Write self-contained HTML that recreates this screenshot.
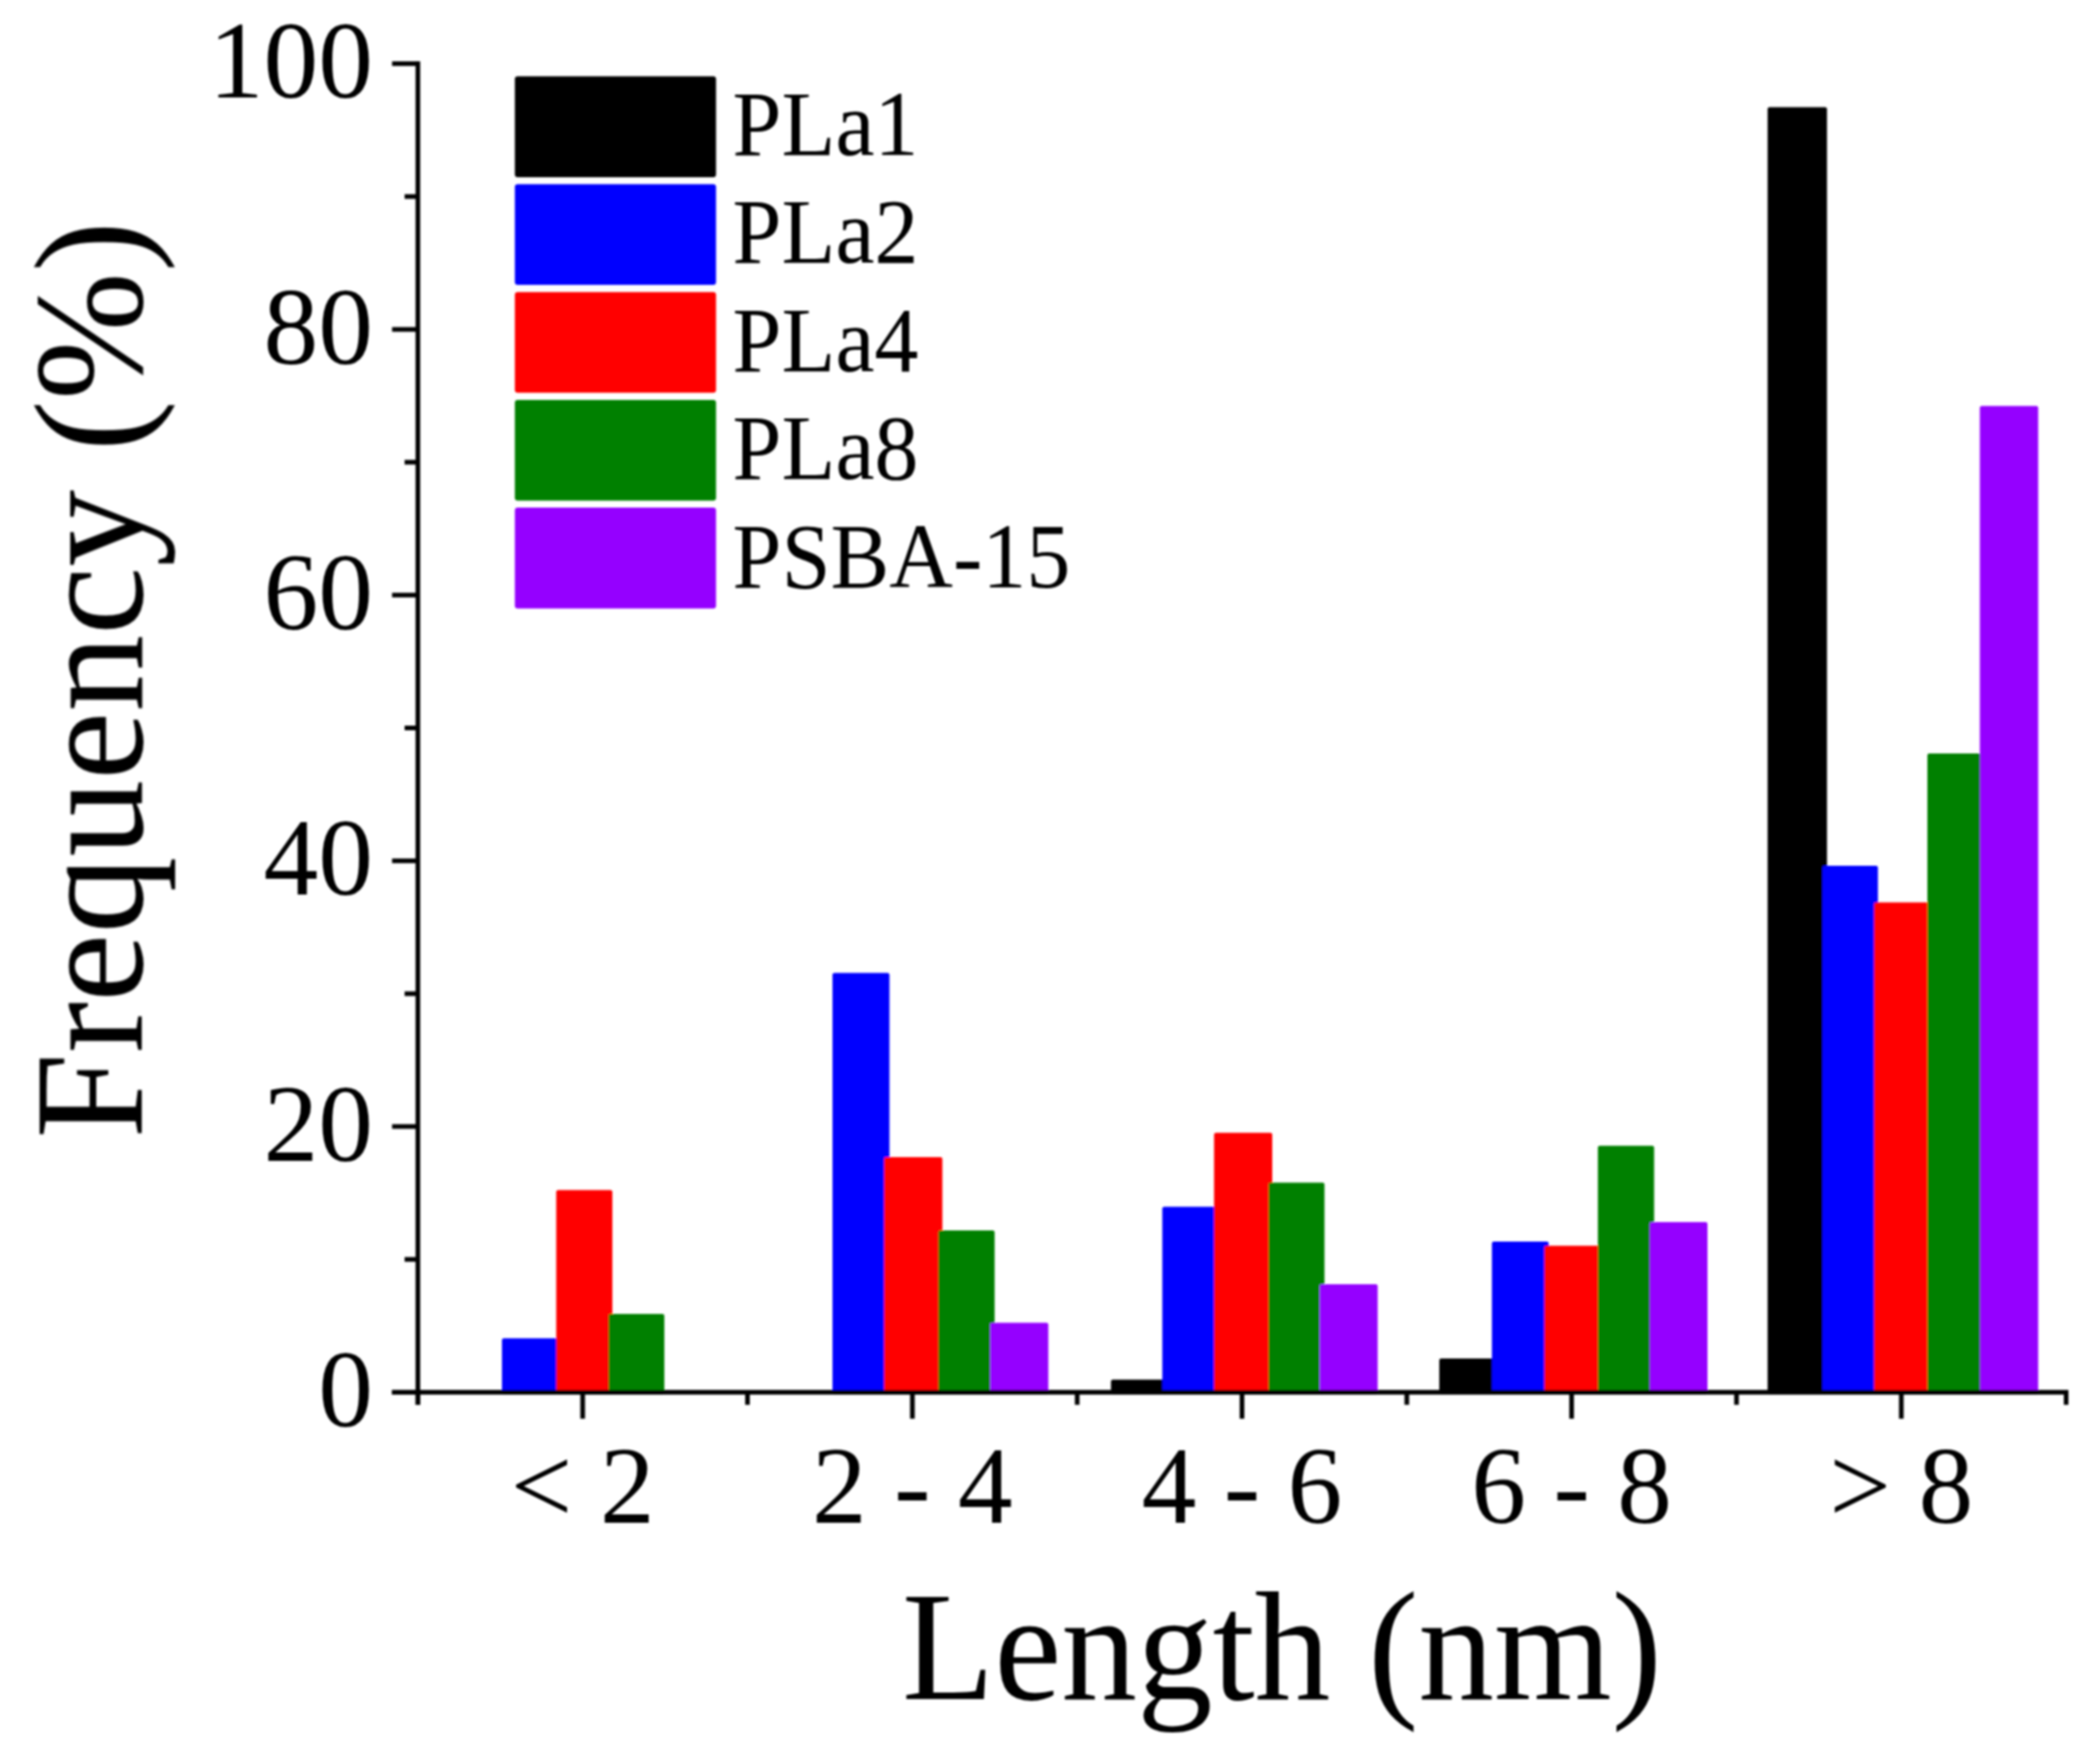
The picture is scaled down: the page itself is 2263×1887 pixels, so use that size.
<!DOCTYPE html>
<html lang="en"><head><meta charset="utf-8"><title>Length distribution</title>
<style>html,body{margin:0;padding:0;background:#fff}body{width:2263px;height:1887px;overflow:hidden}svg{display:block}text{font-family:"Liberation Serif","Times New Roman",serif;fill:#000}</style>
</head><body>
<svg width="2263" height="1887" viewBox="0 0 2263 1887">
<defs><filter id="soft" x="0" y="0" width="2263" height="1887" filterUnits="userSpaceOnUse"><feGaussianBlur stdDeviation="0.85"/></filter></defs>
<rect x="0" y="0" width="2263" height="1887" fill="#fff"/>
<g filter="url(#soft)">
<g id="bars">
<rect x="540.9" y="1442.3" width="59.6" height="60.1" rx="2" fill="#0000ff"/>
<rect x="599.4" y="1282.4" width="60.5" height="220.0" rx="2" fill="#ff0000"/>
<rect x="655.8" y="1415.9" width="60.1" height="86.5" rx="2" fill="#008000"/>
<rect x="897.1" y="1048.5" width="61.4" height="453.9" rx="2" fill="#0000ff"/>
<rect x="952.7" y="1247.0" width="62.8" height="255.4" rx="2" fill="#ff0000"/>
<rect x="1011.3" y="1326.0" width="60.5" height="176.4" rx="2" fill="#008000"/>
<rect x="1066.9" y="1425.4" width="62.8" height="77.0" rx="2" fill="#9500ff"/>
<rect x="1197.2" y="1486.8" width="60.8" height="15.6" rx="2" fill="#000000"/>
<rect x="1252.5" y="1300.4" width="61.5" height="202.0" rx="2" fill="#0000ff"/>
<rect x="1308.3" y="1220.8" width="62.7" height="281.6" rx="2" fill="#ff0000"/>
<rect x="1367.1" y="1274.6" width="60.2" height="227.8" rx="2" fill="#008000"/>
<rect x="1422.0" y="1383.9" width="62.6" height="118.5" rx="2" fill="#9500ff"/>
<rect x="1551.0" y="1464.0" width="62.0" height="38.4" rx="2" fill="#000000"/>
<rect x="1607.7" y="1338.0" width="61.2" height="164.4" rx="2" fill="#0000ff"/>
<rect x="1664.3" y="1342.5" width="61.7" height="159.9" rx="2" fill="#ff0000"/>
<rect x="1721.9" y="1234.7" width="60.6" height="267.7" rx="2" fill="#008000"/>
<rect x="1777.6" y="1317.0" width="62.4" height="185.4" rx="2" fill="#9500ff"/>
<rect x="1904.8" y="115.4" width="64.0" height="1387.0" rx="2" fill="#000000"/>
<rect x="1963.9" y="932.9" width="59.8" height="569.5" rx="2" fill="#0000ff"/>
<rect x="2019.5" y="972.5" width="61.5" height="529.9" rx="2" fill="#ff0000"/>
<rect x="2077.0" y="812.0" width="58.0" height="690.4" rx="2" fill="#008000"/>
<rect x="2133.5" y="437.4" width="62.9" height="1065.0" rx="2" fill="#9500ff"/>
</g>
<g id="axes" fill="#000">
<rect x="447.8" y="66.1" width="5.0" height="1447.8"/>
<rect x="422.5" y="1497.9" width="1806.5" height="5.0"/>
<rect x="422.5" y="1497.9" width="27.8" height="5.0"/>
<rect x="436" y="1354.7" width="14.3" height="5.0"/>
<rect x="422.5" y="1211.5" width="27.8" height="5.0"/>
<rect x="436" y="1068.4" width="14.3" height="5.0"/>
<rect x="422.5" y="925.2" width="27.8" height="5.0"/>
<rect x="436" y="782.0" width="14.3" height="5.0"/>
<rect x="422.5" y="638.8" width="27.8" height="5.0"/>
<rect x="436" y="495.6" width="14.3" height="5.0"/>
<rect x="422.5" y="352.5" width="27.8" height="5.0"/>
<rect x="436" y="209.3" width="14.3" height="5.0"/>
<rect x="422.5" y="66.1" width="27.8" height="5.0"/>
<rect x="447.8" y="1500.4" width="5.0" height="13.5"/>
<rect x="803.0" y="1500.4" width="5.0" height="13.5"/>
<rect x="1158.3" y="1500.4" width="5.0" height="13.5"/>
<rect x="1513.5" y="1500.4" width="5.0" height="13.5"/>
<rect x="1868.8" y="1500.4" width="5.0" height="13.5"/>
<rect x="2224.0" y="1500.4" width="5.0" height="13.5"/>
<rect x="625.4" y="1500.4" width="5.0" height="28.5"/>
<rect x="980.7" y="1500.4" width="5.0" height="28.5"/>
<rect x="1335.9" y="1500.4" width="5.0" height="28.5"/>
<rect x="1691.1" y="1500.4" width="5.0" height="28.5"/>
<rect x="2046.4" y="1500.4" width="5.0" height="28.5"/>
</g>
<g id="ylabels" font-size="118" text-anchor="end">
<text x="402" y="1537.0">0</text>
<text x="402" y="1250.6">20</text>
<text x="402" y="964.3">40</text>
<text x="402" y="677.9">60</text>
<text x="402" y="391.6">80</text>
<text x="402" y="105.2">100</text>
</g>
<g id="xlabels" font-size="118" text-anchor="middle">
<text x="627.9" y="1641">&lt; 2</text>
<text x="983.2" y="1641">2 - 4</text>
<text x="1338.4" y="1641">4 - 6</text>
<text x="1693.6" y="1641">6 - 8</text>
<text x="2048.9" y="1641">&gt; 8</text>
</g>
<text id="xtitle" transform="translate(1381.5,1831) scale(0.97,1)" font-size="168" text-anchor="middle">Length (nm)</text>
<text id="ytitle" transform="translate(152.7,732.5) rotate(-90) scale(0.986,1)" font-size="168" text-anchor="middle">Frequency (%)</text>
<g id="legend" font-size="100">
<rect x="554.8" y="82.3" width="216.8" height="108.6" rx="3" fill="#000000"/>
<text transform="translate(789.3,166.9) scale(0.95,1)">PLa1</text>
<rect x="554.8" y="198.5" width="216.8" height="108.6" rx="3" fill="#0000ff"/>
<text transform="translate(789.3,283.4) scale(0.95,1)">PLa2</text>
<rect x="554.8" y="314.7" width="216.8" height="108.6" rx="3" fill="#ff0000"/>
<text transform="translate(789.3,399.9) scale(0.95,1)">PLa4</text>
<rect x="554.8" y="430.9" width="216.8" height="108.6" rx="3" fill="#008000"/>
<text transform="translate(789.3,516.4) scale(0.95,1)">PLa8</text>
<rect x="554.8" y="547.1" width="216.8" height="108.6" rx="3" fill="#9500ff"/>
<text transform="translate(789.3,632.9) scale(0.95,1)">PSBA-15</text>
</g>
</g>
</svg></body></html>
